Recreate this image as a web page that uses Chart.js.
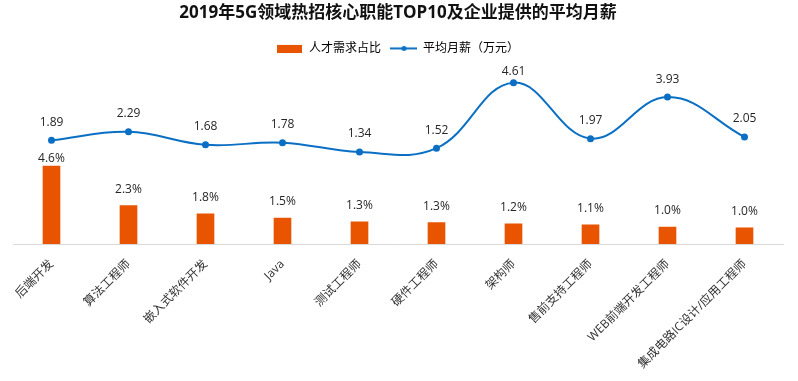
<!DOCTYPE html>
<html><head><meta charset="utf-8">
<script src="https://cdn.jsdelivr.net/npm/chart.js@4/dist/chart.umd.min.js"></script>
<style>html,body{margin:0;padding:0;background:#fff}#wrap{width:798px;height:381px}</style>
</head><body><div id="wrap"><canvas id="c"></canvas></div>
<script>
const categories = ['后端开发','算法工程师','嵌入式软件开发','Java','测试工程师','硬件工程师','架构师','售前支持工程师','WEB前端开发工程师','集成电路IC设计/应用工程师'];
const demandShare = [4.6, 2.26, 1.78, 1.53, 1.31, 1.26, 1.19, 1.13, 1.0, 0.96];
const avgSalary = [1.89, 2.29, 1.68, 1.78, 1.34, 1.52, 4.61, 1.97, 3.93, 2.05];
const titleText = '2019年5G领域热招核心职能TOP10及企业提供的平均月薪';
const seriesNames = ['人才需求占比', '平均月薪（万元）'];

const FONT = "'Open Sans','Noto Sans CJK SC',sans-serif";
const ORANGE = '#E85400';
const BLUE = '#0B6FC4';

function makeIcon(kind){
  const c = document.createElement('canvas');
  c.width = kind==='bar'?25:27; c.height = 9;
  const x = c.getContext('2d');
  if(kind==='bar'){ x.fillStyle = ORANGE; x.fillRect(0,1,25,8); }
  else { x.strokeStyle = BLUE; x.lineWidth = 2; x.beginPath(); x.moveTo(0,4.5); x.lineTo(27,4.5); x.stroke();
    x.fillStyle = BLUE; x.beginPath(); x.arc(13.5,4.5,2.5,0,Math.PI*2); x.fill(); }
  return c;
}
const icons = [makeIcon('bar'), makeIcon('line')];

const legendGap = {
  id:'legendGap',
  afterInit(chart){
    const lg = chart.legend;
    if(!lg) return;
    const orig = lg.fit;
    lg.fit = function(){ orig.call(this); this.height += 10; };
  }
};

const labelPlugin = {
  id:'labels',
  afterDatasetsDraw(chart){
    const ctx = chart.ctx;
    const barMeta = chart.getDatasetMeta(1);
    const lineMeta = chart.getDatasetMeta(0);
    ctx.save();
    ctx.font = '12px ' + FONT;
    ctx.fillStyle = '#262626';
    ctx.textAlign = 'center';
    ctx.textBaseline = 'middle';
    const top = chart.chartArea.top;
    lineMeta.data.forEach((p,i)=>{
      const y = Math.max(p.y - 18, top - 3);
      ctx.fillText(avgSalary[i].toFixed(2), p.x, y);
    });
    barMeta.data.forEach((b,i)=>{
      const lp = lineMeta.data[i];
      const y = Math.max(b.y - 16, lp.y + 18);
      ctx.fillText(demandShare[i].toFixed(1) + '%', b.x, y);
    });
    ctx.restore();
  }
};

new Chart(document.getElementById('c'), {
  data:{
    labels: categories,
    datasets:[
      {type:'line', label: seriesNames[1], data: avgSalary, yAxisID:'y1', borderColor: BLUE, backgroundColor: BLUE,
       borderWidth: 2, tension: 0.4, pointRadius: 2.5, pointHoverRadius: 2.5, order: 0},
      {type:'bar', label: seriesNames[0], data: demandShare, yAxisID:'y', backgroundColor: ORANGE,
       barThickness: 17, order: 1}
    ]
  },
  options:{
    responsive:true, maintainAspectRatio:false, animation:false,
    layout:{padding:{left:13, right:15, top:0, bottom:0}},
    plugins:{
      title:{display:true, text:titleText, color:'#111', font:{family:FONT, size:17, weight:'bold'}, padding:{top:3, bottom:9}},
      legend:{display:true, position:'top',
        labels:{usePointStyle:true, pointStyleWidth:26, color:'#333', font:{family:FONT, size:12}, padding:10,
          generateLabels(chart){
            return [0,1].map(k=>({text: seriesNames[k], pointStyle: icons[k], fillStyle: k?BLUE:ORANGE, strokeStyle:'transparent', lineWidth:0, datasetIndex: k===0?1:0, hidden:false}));
          }}},
      tooltip:{enabled:false}
    },
    scales:{
      x:{grid:{display:false, drawTicks:false}, border:{display:true, color:'#d9d9d9'},
         ticks:{autoSkip:false, minRotation:45, maxRotation:45, color:'#333', font:{family:FONT, size:12}, padding:13},
         afterFit(s){ s.height = 137; }},
      y:{display:false, min:0, max:10},
      y1:{display:false, min:-3, max:5}
    }
  },
  plugins:[labelPlugin, legendGap]
});
</script></body></html>
